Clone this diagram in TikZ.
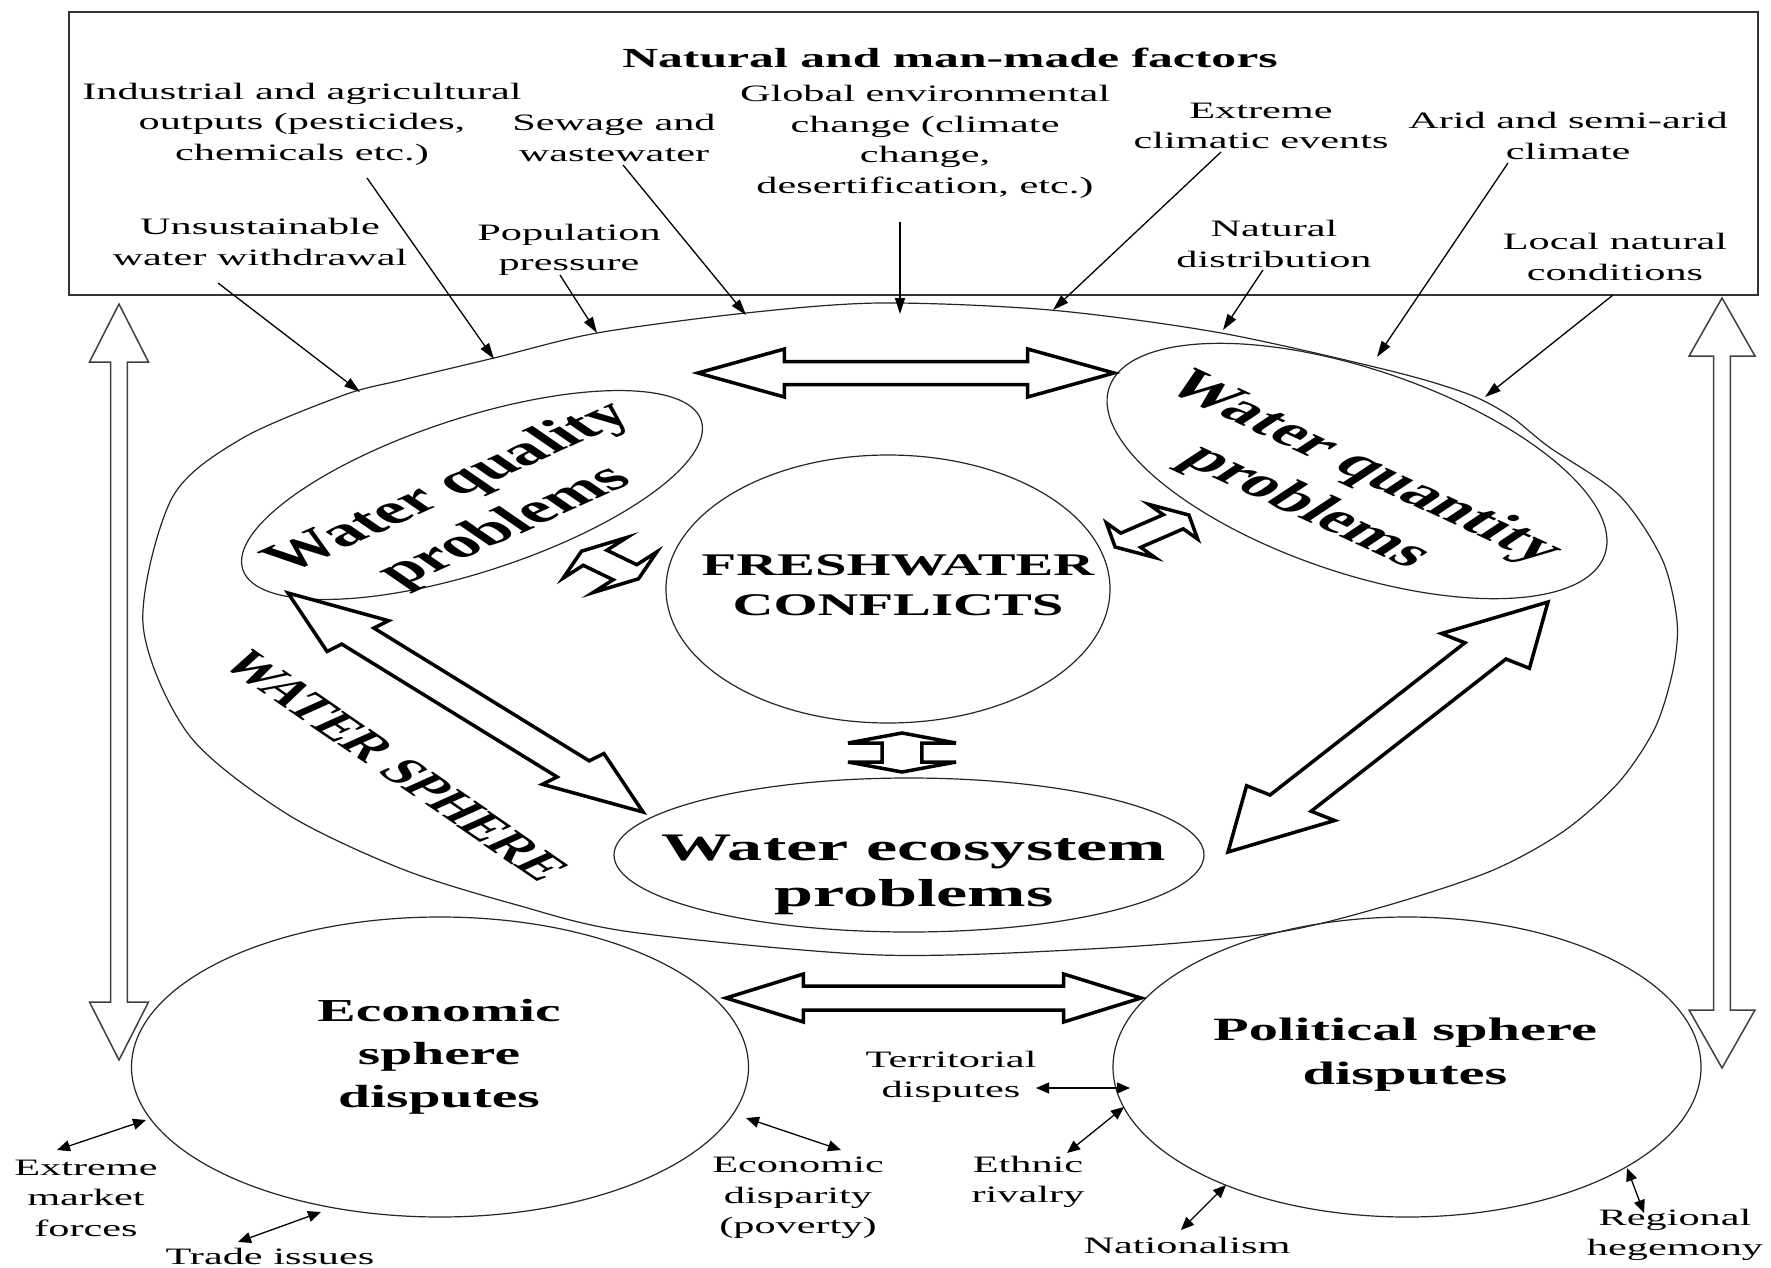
\documentclass[tikz,border=0pt]{standalone}
\usepackage{fontspec}
\setmainfont{Liberation Serif}
\usetikzlibrary{shapes.geometric,arrows.meta,calc}

% hollow double-headed block arrow between two named points,
% built in an unstretched frame and widened horizontally by 1.8
\newdimen\baXa \newdimen\baYa \newdimen\baXb \newdimen\baYb
\newcommand\blockarrow[6][]{%
  \pgfextractx{\baXa}{\pgfpointanchor{#2}{center}}%
  \pgfextracty{\baYa}{\pgfpointanchor{#2}{center}}%
  \pgfextractx{\baXb}{\pgfpointanchor{#3}{center}}%
  \pgfextracty{\baYb}{\pgfpointanchor{#3}{center}}%
  \pgfmathsetmacro\baAng{atan2((\baYb-\baYa)/100,(\baXb-\baXa)/180)}%
  \pgfmathsetmacro\baHalf{veclen((\baXb-\baXa)/180,(\baYb-\baYa)/100)*50}%
  \pgfmathsetmacro\baHb{\baHalf-#6}%
  \pgfmathsetmacro\baMx{(\baXa+\baXb)/2}%
  \pgfmathsetmacro\baMy{(\baYa+\baYb)/2}%
  \begin{scope}[shift={(\baMx pt,\baMy pt)},xscale=1.8,rotate=\baAng]
    \draw[#1] (-\baHalf pt,0pt) -- (-\baHb pt,#5pt) -- (-\baHb pt,#4pt)
      -- (\baHb pt,#4pt) -- (\baHb pt,#5pt) -- (\baHalf pt,0pt)
      -- (\baHb pt,-#5pt) -- (\baHb pt,-#4pt) -- (-\baHb pt,-#4pt)
      -- (-\baHb pt,-#5pt) -- cycle;
  \end{scope}}

\tikzset{
  txt/.style={align=center,xscale=1.8,inner sep=0pt,font=\fontsize{23.5}{30.5}\selectfont},
  headtxt/.style={align=center,xscale=1.8,inner sep=0pt,font=\bfseries\fontsize{27.6}{33}\selectfont},
  tilttxt/.style={align=center,xscale=1.8,inner sep=0pt,font=\bfseries\fontsize{42}{50}\selectfont},
  ecotxt/.style={align=center,xscale=1.8,inner sep=0pt,font=\bfseries\fontsize{39}{46}\selectfont},
  spheretxt/.style={align=center,xscale=1.8,inner sep=0pt,font=\bfseries\fontsize{32}{43}\selectfont},
  coretxt/.style={align=center,xscale=1.8,inner sep=0pt,font=\bfseries\fontsize{31.5}{40}\selectfont},
  ringtxt/.style={xscale=1.8,inner sep=0pt,font=\bfseries\fontsize{36}{40}\selectfont},
  oval/.style={ellipse,draw=black!85,line width=1.2pt,inner sep=0pt},
  feed/.style={-{Triangle[length=16pt,width=10pt]},line width=1.3pt},
  link/.style={{Triangle[length=13pt,width=11pt]}-{Triangle[length=13pt,width=11pt]},line width=1.3pt},
  fatarrow/.style={line width=3.5pt,draw=black,fill=white,line join=miter},
  slimarrow/.style={line width=1.5pt,draw=black!75,fill=white},
}

\begin{document}
\begin{tikzpicture}[x=1pt,y=-1pt]
\fill[white] (0,0) rectangle (1771,1268);
\useasboundingbox (0,0) rectangle (1771,1268);

% factor box and its labels
\node[draw=black!80,line width=1.4pt,minimum width=1689,minimum height=283,inner sep=0pt] (factors) at (913.5,153.5) {};
\node[headtxt] (title) at (950,58) {Natural and man-made factors};
\node[txt] (ind)  at (302,124) {Industrial and agricultural\\outputs (pesticides,\\chemicals etc.)};
\node[txt] (sew)  at (614,138) {Sewage and\\wastewater};
\node[txt] (glob) at (925,142) {Global environmental\\change (climate\\change,\\desertification, etc.)};
\node[txt] (ext)  at (1261,126) {Extreme\\climatic events};
\node[txt] (arid) at (1568,136) {Arid and semi-arid\\climate};
\node[txt] (uns)  at (260,242) {Unsustainable\\water withdrawal};
\node[txt] (pop)  at (569,250) {Population\\pressure};
\node[txt] (nat)  at (1274,244) {Natural\\distribution};
\node[txt] (loc)  at (1615,257) {Local natural\\conditions};

% water sphere outline
\draw[black!85,line width=1.2pt] plot[smooth cycle,tension=0.5] coordinates {
  (143,624) (172,498) (241,439) (344,395) (402,380) (494,358) (597,333)
  (746,313) (880,303) (1050,310) (1221,333) (1391,371) (1468,394)
  (1510,416) (1549,447) (1619,495) (1662,559) (1677,621) (1673,670)
  (1655,728) (1619,782) (1564,831) (1491,871) (1382,907) (1273,933)
  (1107,948) (880,955) (631,932) (517,905) (402,869) (287,814) (189,735)};
\node[ringtxt,rotate=-51] (sphere) at (396,766) {WATER SPHERE};

% problem areas
\node[oval,rotate=18,minimum width=482,minimum height=154] (qual) at (472,495) {};
\node[tilttxt,rotate=39] (qual-t) at (478,508) {Water quality\\problems};
\node[oval,rotate=-18.6,minimum width=523,minimum height=204] (quant) at (1357,471) {};
\node[tilttxt,rotate=-40] (quant-t) at (1334,488) {Water quantity\\problems};
\node[oval,minimum width=444,minimum height=268] (core) at (888,589) {};
\node[coretxt] (core-t) at (898,585) {FRESHWATER\\CONFLICTS};
\node[oval,minimum width=590,minimum height=154] (eco) at (909,855) {};
\node[ecotxt] (eco-t) at (914,875) {Water ecosystem\\problems};

% dispute spheres
\node[oval,minimum width=617,minimum height=300] (econ) at (440,1067) {};
\node[spheretxt] (econ-t) at (439,1057) {Economic\\sphere\\disputes};
\node[oval,minimum width=588,minimum height=300] (pol) at (1407,1067) {};
\node[spheretxt,font=\bfseries\fontsize{32.5}{44}\selectfont] (pol-t) at (1405,1055) {Political sphere\\disputes};

% factor arrows onto the water sphere
\coordinate (s1) at (218,283);  \coordinate (t1) at (360,392);
\coordinate (s2) at (367,178);  \coordinate (t2) at (494,359);
\coordinate (s3) at (560,275);  \coordinate (t3) at (597,333);
\coordinate (s4) at (623,165);  \coordinate (t4) at (746,315);
\coordinate (s5) at (900,222);  \coordinate (t5) at (900,314);
\coordinate (s6) at (1221,152); \coordinate (t6) at (1053,310);
\coordinate (s7) at (1263,270); \coordinate (t7) at (1223,330);
\coordinate (s8) at (1508,163); \coordinate (t8) at (1377,357);
\coordinate (s9) at (1613,295); \coordinate (t9) at (1485,397);
\foreach \i in {1,...,9} {\draw[feed] (s\i) -- (t\i);}

% block arrows
\coordinate (a1) at (698,373);  \coordinate (a2) at (1114,373);
\coordinate (b1) at (726,998);  \coordinate (b2) at (1141,998);
\coordinate (c1) at (119,304);  \coordinate (c2) at (119,1060);
\coordinate (d1) at (1722,298); \coordinate (d2) at (1722,1068);
\coordinate (e1) at (288,593);  \coordinate (e2) at (643,812);
\coordinate (f1) at (1228,852); \coordinate (f2) at (1548,602);
\coordinate (g1) at (581.5,551.2); \coordinate (g2) at (638.5,578.8);
\coordinate (h1) at (1115.1,547); \coordinate (h2) at (1188.9,515);
\coordinate (k1) at (902,733);  \coordinate (k2) at (902,772);
\blockarrow[fatarrow]{a1}{a2}{11.5}{24}{48}
\blockarrow[fatarrow]{b1}{b2}{12}{24}{43}
\blockarrow[slimarrow]{c1}{c2}{4.7}{16.4}{58}
\blockarrow[slimarrow]{d1}{d2}{4.7}{18.3}{58}
\blockarrow[fatarrow]{e1}{e2}{12}{23}{58}
\blockarrow[fatarrow]{f1}{f2}{14}{30}{60}
\blockarrow[fatarrow]{g1}{g2}{10}{27}{10}
\blockarrow[fatarrow]{h1}{h2}{9}{22}{11}
\blockarrow[fatarrow]{k1}{k2}{11}{30}{10}

% dispute drivers
\node[txt] (emf)    at (86,1198)   {Extreme\\market\\forces};
\node[txt] (trade)  at (270,1256)  {Trade issues};
\node[txt] (edp)    at (798,1198)  {Economic\\disparity\\(poverty)};
\node[txt] (terr)   at (951,1077)  {Territorial\\disputes};
\node[txt] (eth)    at (1028,1182) {Ethnic\\rivalry};
\node[txt] (nation) at (1187,1245) {Nationalism};
\node[txt] (reg)    at (1675,1235) {Regional\\hegemony};
\coordinate (m1) at (57,1150);   \coordinate (n1) at (146,1120);
\coordinate (m2) at (238,1242);  \coordinate (n2) at (321,1212);
\coordinate (m3) at (841,1150);  \coordinate (n3) at (746,1118);
\coordinate (m4) at (1036,1088); \coordinate (n4) at (1130,1088);
\coordinate (m5) at (1067,1153); \coordinate (n5) at (1124,1107);
\coordinate (m6) at (1181,1230); \coordinate (n6) at (1226,1185);
\coordinate (m7) at (1644,1213); \coordinate (n7) at (1627,1168);
\foreach \i in {1,...,7} {\draw[link] (m\i) -- (n\i);}
\end{tikzpicture}
\end{document}
